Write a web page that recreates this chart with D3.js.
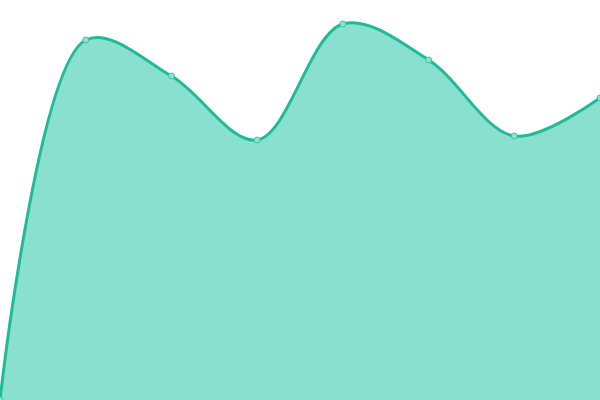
<!DOCTYPE html>
<html>
<head>
<meta charset="utf-8">
<script src="https://cdn.jsdelivr.net/npm/d3@7"></script>
<style>
  html, body { margin: 0; padding: 0; background: #fff; overflow: hidden; }
  svg { display: block; }
</style>
</head>
<body>
<div id="chart"></div>
<script>
// one series, eight steps, no axes drawn
var categories = ["1", "2", "3", "4", "5", "6", "7", "8"];
var values = [0, 90, 81, 65, 94, 85, 66, 75.5];

var width = 600, height = 400;

var svg = d3.select("#chart").append("svg").attr("width", width).attr("height", height);

var x = d3.scalePoint().domain(categories).range([0, width]);
var y = d3.scaleLinear().domain([0, 100]).range([height, 0]);

var data = categories.map(function(c, i){ return {cat: c, val: values[i]}; });

var curve = d3.curveCatmullRom.alpha(0.5);

var area = d3.area()
    .x(d => x(d.cat))
    .y0(y(0))
    .y1(d => y(d.val))
    .curve(curve);

var line = d3.line()
    .x(d => x(d.cat))
    .y(d => y(d.val))
    .curve(curve);

svg.append("path").datum(data)
    .attr("d", area)
    .attr("fill", "#89e0cf");

svg.append("path").datum(data)
    .attr("d", line)
    .attr("fill", "none")
    .attr("stroke", "#1fbb99")
    .attr("stroke-width", 3);

svg.selectAll(".dot").data(data).enter().append("circle")
    .attr("class", "dot")
    .attr("cx", d => x(d.cat))
    .attr("cy", d => y(d.val))
    .attr("r", 3)
    .attr("fill", "#8ee2d2")
    .attr("stroke", "#3cc4a6")
    .attr("stroke-width", 1);
</script>
</body>
</html>
